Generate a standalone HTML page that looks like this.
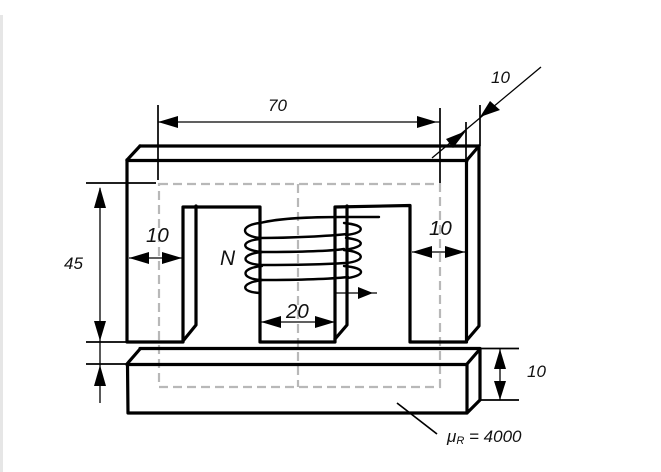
<!DOCTYPE html>
<html>
<head>
<meta charset="utf-8">
<style>
html,body{margin:0;padding:0;background:#fff;}
svg{display:block;}
text{font-family:"Liberation Sans",sans-serif;font-style:italic;fill:#111;}
</style>
</head>
<body>
<svg width="661" height="472" viewBox="0 0 661 472" xmlns="http://www.w3.org/2000/svg">
<rect width="661" height="472" fill="#fff"/>
<rect x="0" y="15" width="3" height="457" fill="#e6e6e6"/>

<!-- dashed flux path -->
<g fill="none" stroke="#b8b8b8" stroke-width="2.200" stroke-dasharray="9 5">
<path d="M159,184 H440 V387 H159 Z"/>
<path d="M298,184 V387"/>
</g>

<!-- upper core -->
<g fill="none" stroke="#000" stroke-width="3.200" stroke-linejoin="round" stroke-linecap="round">
<path d="M140,146 H478"/>
<path d="M127,160.5 H467"/>
<path d="M127,160 L140,146"/>
<path d="M467,160 L479,146"/>
<path d="M127,160 V342 H183 V207 H260 V342 H335 V207 L410,205.5 V342 H466.5 V160"/>
<path d="M479,146 V326 L467,340"/>
<path d="M196,206 V325 L183,341"/>
<path d="M347,206 V325 L335,339"/>
</g>

<!-- lower bar -->
<g fill="none" stroke="#000" stroke-width="3.200" stroke-linejoin="round" stroke-linecap="round">
<path d="M140,348.5 H480"/>
<path d="M127,364.5 H467"/>
<path d="M127,364 L140,349"/>
<path d="M127.500,364 L128,413 H467 V364 L480,349 V400 L467,413"/>
</g>

<!-- coil -->
<g fill="none" stroke="#000" stroke-width="2.400" stroke-linecap="round">
<path d="M379,217 H343 C310,217 280,218 260,223"/>
<path d="M260,223 C240,225 240,236 260,238 C290,238 330,236 347,234"/>
<path d="M260,239 C240,241 240,250 262,252 C295,252 330,251 344,249"/>
<path d="M262,252 C240,254 240,264 262,265 C295,265 330,264 345,263"/>
<path d="M262,266 C240,268 240,279 262,280 C295,280 330,279 348,277"/>
<path d="M262,280 C240,283 240,292 260,293"/>
<path d="M344,223 C366,225 366,233 346,235"/>
<path d="M346,238 C366,240 366,247 344,250"/>
<path d="M344,250 C366,252 366,261 346,263"/>
<path d="M344,266 C366,268 366,275 348,278"/>
</g>

<!-- dimension lines -->
<g fill="none" stroke="#000" stroke-width="1.300">
<path d="M158,122 H440"/>
<path d="M100,188 V403"/>
<path d="M129,258 H183"/>
<path d="M412,252 H466"/>
<path d="M261,322 H335"/>
<path d="M500,349 V400"/>
<path d="M541,67 L432,158"/>
<path d="M336,293 H377"/>
</g>
<g fill="none" stroke="#000" stroke-width="1.700">
<path d="M158,105 V180"/>
<path d="M440,108 V183"/>
<path d="M86,183 H156"/>
<path d="M86,342 H127"/>
<path d="M86,364 H127"/>
<path d="M480,348.500 H519"/>
<path d="M480,400 H519"/>
<path d="M480,105 V146"/>
<path d="M466,122 V160"/>
<path d="M397,403 L437,434"/>
</g>

<!-- arrowheads -->
<g fill="#000" stroke="none">
<path d="M158,122 L178,116 V128 Z"/>
<path d="M437,122 L417,116 V128 Z"/>
<path d="M100,187 L94,208 H106 Z"/>
<path d="M100,341 L94,321 H106 Z"/>
<path d="M100,365 L94,386 H106 Z"/>
<path d="M129,258 L149,252 V264 Z"/>
<path d="M182,258 L162,252 V264 Z"/>
<path d="M412,252 L432,246 V258 Z"/>
<path d="M465,252 L445,246 V258 Z"/>
<path d="M261,322 L281,316 V328 Z"/>
<path d="M335,322 L315,316 V328 Z"/>
<path d="M500,349 L494,369 H506 Z"/>
<path d="M500,400 L494,381 H506 Z"/>
<path d="M480,117 L490,101 L500,110 Z"/>
<path d="M466,131 L446,139 L453,148 Z"/>
<path d="M373,293 L358,287 V299 Z"/>
</g>

<!-- labels -->
<text x="268" y="111" font-size="17">70</text>
<text x="491" y="83" font-size="17">10</text>
<text x="64" y="269" font-size="17">45</text>
<text x="146" y="242" font-size="20.500">10</text>
<text x="429" y="235" font-size="20.500">10</text>
<text x="220" y="265" font-size="21">N</text>
<text x="286" y="318" font-size="20.500">20</text>
<text x="527" y="377" font-size="17">10</text>
<text x="447" y="442" font-size="17">μ<tspan font-size="11" dy="2">R</tspan><tspan dy="-2"> = 4000</tspan></text>
</svg>
</body>
</html>
